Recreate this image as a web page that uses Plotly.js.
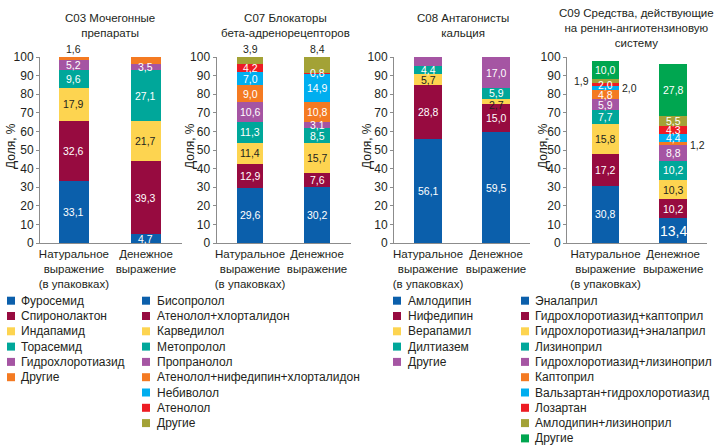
<!DOCTYPE html>
<html><head><meta charset="utf-8">
<script src="https://cdn.plot.ly/plotly-3.0.1.min.js"></script>
<style>html,body{margin:0;padding:0;background:#fff;} #chart{width:715px;height:448px;}</style>
</head><body><div id="chart"></div>
<script>
// ---------- data ----------
const categories = ['Натуральное<br>выражение<br>(в упаковках)', 'Денежное<br>выражение'];

const c03Title = 'С03 Мочегонные<br>препараты';
const c03Names = ['Фуросемид', 'Спиронолактон', 'Индапамид', 'Торасемид', 'Гидрохлоротиазид', 'Другие'];
const c03Natural = [33.1, 32.6, 17.9, 9.6, 5.2, 1.6];
const c03Money = [4.7, 39.3, 21.7, 27.1, 3.5, 3.7];

const c07Title = 'С07 Блокаторы<br>бета-адренорецепторов';
const c07Names = ['Бисопролол', 'Атенолол+хлорталидон', 'Карведилол', 'Метопролол', 'Пропранолол',
  'Атенолол+нифедипин+хлорталидон', 'Небиволол', 'Атенолол', 'Другие'];
const c07Natural = [29.6, 12.9, 11.4, 11.3, 10.6, 9.0, 7.0, 4.2, 3.9];
const c07Money = [30.2, 7.6, 15.7, 8.5, 3.1, 10.8, 14.9, 0.8, 8.4];

const c08Title = 'С08 Антагонисты<br>кальция';
const c08Names = ['Амлодипин', 'Нифедипин', 'Верапамил', 'Дилтиазем', 'Другие'];
const c08Natural = [56.1, 28.8, 5.7, 4.4, 5.0];
const c08Money = [59.5, 15.0, 2.7, 5.9, 17.0];

const c09Title = 'С09 Средства, действующие<br>на ренин-ангиотензиновую<br>систему';
const c09Names = ['Эналаприл', 'Гидрохлоротиазид+каптоприл', 'Гидрохлоротиазид+эналаприл', 'Лизиноприл',
  'Гидрохлоротиазид+лизиноприл', 'Каптоприл', 'Вальзартан+гидрохлоротиазид', 'Лозартан',
  'Амлодипин+лизиноприл', 'Другие'];
const c09Natural = [30.8, 17.2, 15.8, 7.7, 5.9, 4.8, 2.0, 2.0, 1.9, 10.0];
const c09Money = [13.4, 10.2, 10.3, 10.2, 8.8, 1.2, 4.4, 4.3, 5.5, 27.8];

const yTitle = 'Доля, %';
const palette = ['#0b5fab', '#970b40', '#fdd450', '#00a79a', '#a555a3', '#f47a22', '#00aeef', '#ed1c24', '#a3a236', '#00a650'];

// ---------- layout helpers ----------
const W = 715, H = 448;
const FONT = 'Liberation Sans, Arial, sans-serif';
const TXT = '#231f20';
const px = p => p / W;
const py = p => 1 - p / H;
const yDom = [py(243), py(57)];

const panels = [
  {title: c03Title, names: c03Names, nat: c03Natural, mon: c03Money, tx: 110, ty: 25.5, yt: 11,
   dom: [40, 182], range: [-0.47, 1.5], bw: 0.42, legSq: 7, legTx: 19,
   place: {'5-0': 'above', '5-1': 'above'}},
  {title: c07Title, names: c07Names, nat: c07Natural, mon: c07Money, tx: 285, ty: 25.5, yt: 190,
   dom: [216.5, 350.5], range: [-0.5, 1.5], bw: 0.40, legSq: 142, legTx: 155,
   place: {'8-0': 'above', '8-1': 'above'}},
  {title: c08Title, names: c08Names, nat: c08Natural, mon: c08Money, tx: 463, ty: 25.5, yt: 367,
   dom: [394, 530], range: [-0.5, 1.5], bw: 0.40, legSq: 393, legTx: 406,
   place: {'4-0': 'above'}, shift: {'2-1': -3, '3-1': 1}},
  {title: c09Title, names: c09Names, nat: c09Natural, mon: c09Money, tx: 636, ty: 27.5, yt: 543,
   dom: [567, 707], range: [-0.57, 1.5], bw: 0.41, legSq: 521, legTx: 533,
   place: {'6-0': 'right', '8-0': 'left', '5-1': 'right'}, big: {'0-1': 14},
   shift: {'5-1': -2}}
];

const fmt = v => v.toFixed(1).replace('.', ',');
const traces = [];
const annotations = [];
const shapes = [];
const layout = {
  width: W, height: H, margin: {l: 0, r: 0, t: 0, b: 0},
  paper_bgcolor: '#fff', plot_bgcolor: '#fff',
  barmode: 'stack', showlegend: false,
  font: {family: FONT, size: 12, color: TXT}
};

panels.forEach((p, k) => {
  const sfx = k === 0 ? '' : String(k + 1);
  const xa = 'x' + sfx, ya = 'y' + sfx;
  const colors = palette.slice(0, p.names.length);
  p.names.forEach((name, i) => {
    traces.push({
      type: 'bar', name: name, x: categories, y: [p.nat[i], p.mon[i]],
      xaxis: xa, yaxis: ya, width: p.bw,
      marker: {color: colors[i], line: {width: 0}},
      hovertemplate: name + ': %{y:.1f}%<extra></extra>'
    });
  });
  layout['xaxis' + sfx] = {
    domain: [px(p.dom[0]), px(p.dom[1])], anchor: ya, type: 'category',
    range: p.range, showline: true, linecolor: '#8c8c8c', linewidth: 1,
    ticks: '', tickangle: 0, showgrid: false, zeroline: false, fixedrange: true,
    tickfont: {size: 11.5, color: TXT}
  };
  layout['yaxis' + sfx] = {
    domain: yDom, anchor: xa, range: [0, 100], dtick: 10,
    showline: true, linecolor: '#8c8c8c', linewidth: 1,
    ticks: 'outside', ticklen: 3, tickcolor: '#8c8c8c',
    showgrid: false, zeroline: false, fixedrange: true,
    tickfont: {size: 12, color: TXT}
  };
  // y-axis title
  annotations.push({xref: 'paper', yref: 'paper', x: px(p.yt), y: py(146),
    xanchor: 'center', yanchor: 'middle', textangle: -90, showarrow: false,
    text: yTitle, font: {size: 12, color: TXT}});
  // subplot title
  annotations.push({xref: 'paper', yref: 'paper', x: px(p.tx), y: py(p.ty),
    xanchor: 'center', yanchor: 'middle', showarrow: false, text: p.title,
    font: {size: 11.5, color: TXT}});
  // segment labels
  [0, 1].forEach(j => {
    const bars = p.names.map((_, i) => j === 0 ? p.nat[i] : p.mon[i]);
    const total = bars.reduce((a, b) => a + b, 0);
    let base = 0;
    bars.forEach((v, i) => {
      const key = i + '-' + j;
      const mode = p.place[key] || 'inside';
      const a = {xref: xa, yref: ya, showarrow: false, text: fmt(v), borderpad: 0,
        font: {size: (p.big && p.big[key]) || 10.5, color: '#fff'},
        yshift: (p.shift && p.shift[key]) || 0};
      if (mode === 'inside') {
        a.x = j; a.y = base + v / 2; a.yanchor = 'middle';
        if (i === 2) a.font.color = TXT;
      } else if (mode === 'above') {
        a.x = j; a.y = total; a.yanchor = 'bottom'; a.yshift = 1; a.font.color = TXT;
      } else if (mode === 'right') {
        a.x = j + p.bw / 2; a.y = base + v / 2; a.xanchor = 'left'; a.xshift = 2;
        a.yanchor = 'middle'; a.font.color = TXT;
      } else {
        a.x = j - p.bw / 2; a.y = base + v / 2; a.xanchor = 'right'; a.xshift = -2;
        a.yanchor = 'middle'; a.font.color = TXT;
      }
      annotations.push(a);
      base += v;
    });
  });
  // legend (drawn manually for compact row spacing)
  p.names.forEach((name, i) => {
    const cy = 300.7 + i * 15.3;
    shapes.push({type: 'rect', xref: 'paper', yref: 'paper',
      x0: px(p.legSq), x1: px(p.legSq + 8), y0: py(cy - 4), y1: py(cy + 4),
      fillcolor: colors[i], line: {width: 0}});
    annotations.push({xref: 'paper', yref: 'paper', x: px(p.legTx), y: py(cy),
      xanchor: 'left', yanchor: 'middle', showarrow: false, text: name,
      font: {size: 12, color: TXT}});
  });
});

layout.annotations = annotations;
layout.shapes = shapes;
Plotly.newPlot('chart', traces, layout, {displayModeBar: false, staticPlot: true});
</script>
</body></html>
